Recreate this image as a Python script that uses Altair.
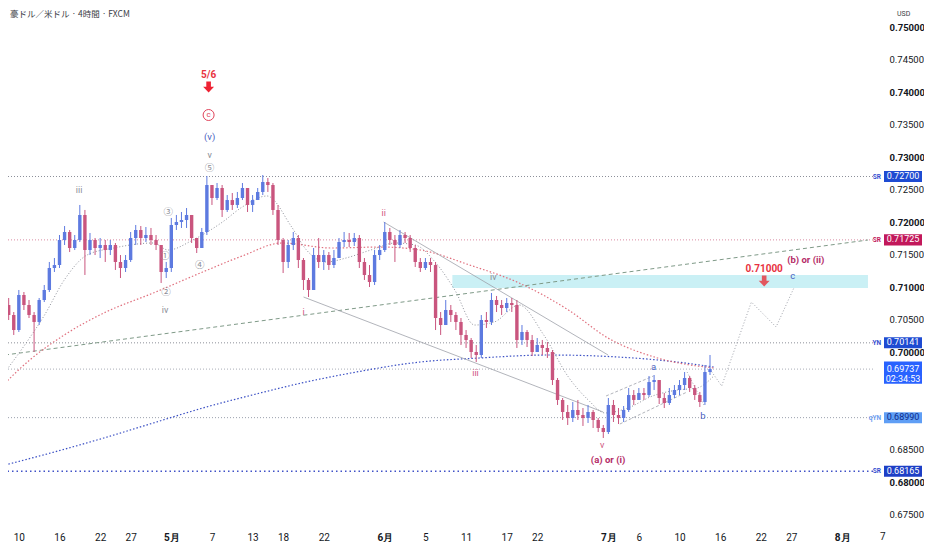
import altair as alt
import pandas as pd

# ---------------- data ----------------
# 12-hour candles; time axis in trading days (0 = Apr 10, weekends removed)
BAR_T0 = -1.0
BAR_DT = 0.5
FIRST_OPEN = 0.70723
CLOSES = [
    0.70569, 0.70338, 0.70877, 0.70723, 0.70569, 0.70462, 0.70800, 0.70954, 0.71292, 0.71338,
    0.71723, 0.71846, 0.71600, 0.71723, 0.72108, 0.71569, 0.71723, 0.71600, 0.71646, 0.71569,
    0.71646, 0.71385, 0.71292, 0.71415, 0.71754, 0.71877, 0.71754, 0.71800, 0.71723, 0.71646,
    0.71231, 0.71292, 0.71954, 0.72000, 0.72031, 0.72108, 0.71754, 0.71600, 0.71846, 0.72569,
    0.72369, 0.72523, 0.72185, 0.72338, 0.72262, 0.72369, 0.72523, 0.72262, 0.72338, 0.72462,
    0.72615, 0.72569, 0.72185, 0.71723, 0.71385, 0.71646, 0.71754, 0.71415, 0.71108, 0.70954,
    0.71492, 0.71385, 0.71492, 0.71338, 0.71446, 0.71692, 0.71723, 0.71692, 0.71754, 0.71385,
    0.71185, 0.71077, 0.71492, 0.71569, 0.71846, 0.71723, 0.71646, 0.71800, 0.71754, 0.71600,
    0.71385, 0.71292, 0.71385, 0.71338, 0.70523, 0.70415, 0.70646, 0.70569, 0.70462, 0.70262,
    0.70185, 0.70000, 0.69954, 0.70492, 0.70462, 0.70800, 0.70723, 0.70677, 0.70754, 0.70723,
    0.70185, 0.70308, 0.70185, 0.70000, 0.70108, 0.70062, 0.70000, 0.69569, 0.69262, 0.69077,
    0.68985, 0.69108, 0.69031, 0.68985, 0.69077, 0.68954, 0.68831, 0.68769, 0.69185, 0.69031,
    0.68985, 0.69108, 0.69338, 0.69262, 0.69369, 0.69338, 0.69538, 0.69569, 0.69292, 0.69215,
    0.69338, 0.69415, 0.69492, 0.69600, 0.69446, 0.69338, 0.69231, 0.69692, 0.69737,
]
HIGHS = [
    0.70831, 0.70615, 0.70954, 0.70923, 0.70800, 0.70615, 0.70831, 0.71031, 0.71385, 0.71446,
    0.71800, 0.71938, 0.71877, 0.71800, 0.72262, 0.72185, 0.71831, 0.71754, 0.71754, 0.71723,
    0.71723, 0.71677, 0.71492, 0.71492, 0.71846, 0.71954, 0.71938, 0.71923, 0.71908, 0.71800,
    0.71646, 0.71385, 0.72062, 0.72108, 0.72154, 0.72215, 0.72108, 0.71754, 0.71908, 0.72708,
    0.72569, 0.72600, 0.72569, 0.72415, 0.72446, 0.72462, 0.72600, 0.72523, 0.72415, 0.72523,
    0.72723, 0.72677, 0.72600, 0.72262, 0.71754, 0.71723, 0.71846, 0.71800, 0.71446, 0.71138,
    0.71600, 0.71754, 0.71569, 0.71538, 0.71569, 0.71754, 0.71846, 0.71831, 0.71831, 0.71800,
    0.71446, 0.71338, 0.71569, 0.71646, 0.72000, 0.71908, 0.71800, 0.71877, 0.71846, 0.71800,
    0.71646, 0.71446, 0.71446, 0.71446, 0.71385, 0.70615, 0.70800, 0.70723, 0.70615, 0.70523,
    0.70338, 0.70215, 0.70108, 0.70569, 0.70615, 0.70908, 0.70862, 0.70800, 0.70831, 0.70831,
    0.70800, 0.70415, 0.70338, 0.70262, 0.70215, 0.70185, 0.70154, 0.70031, 0.69600, 0.69292,
    0.69185, 0.69231, 0.69262, 0.69138, 0.69185, 0.69108, 0.68985, 0.68877, 0.69292, 0.69262,
    0.69138, 0.69169, 0.69446, 0.69415, 0.69446, 0.69446, 0.69631, 0.69646, 0.69538, 0.69369,
    0.69446, 0.69492, 0.69569, 0.69692, 0.69631, 0.69492, 0.69385, 0.69800, 0.69954,
]
LOWS = [
    0.70492, 0.70262, 0.70308, 0.70646, 0.70523, 0.70000, 0.70415, 0.70769, 0.70923, 0.71231,
    0.71292, 0.71646, 0.71538, 0.71569, 0.71692, 0.71185, 0.71492, 0.71492, 0.71446, 0.71385,
    0.71492, 0.71262, 0.71138, 0.71231, 0.71385, 0.71646, 0.71646, 0.71692, 0.71646, 0.71569,
    0.71062, 0.71138, 0.71231, 0.71877, 0.71908, 0.71908, 0.71677, 0.71523, 0.71600, 0.71800,
    0.72262, 0.72338, 0.72077, 0.72154, 0.72185, 0.72215, 0.72338, 0.72154, 0.72154, 0.72338,
    0.72415, 0.72462, 0.72108, 0.71646, 0.71215, 0.71292, 0.71569, 0.71292, 0.70954, 0.70846,
    0.70954, 0.71292, 0.71262, 0.71262, 0.71292, 0.71446, 0.71615, 0.71615, 0.71631, 0.71292,
    0.71108, 0.71000, 0.71031, 0.71415, 0.71538, 0.71646, 0.71385, 0.71600, 0.71677, 0.71538,
    0.71308, 0.71231, 0.71262, 0.71231, 0.70338, 0.70262, 0.70415, 0.70462, 0.70338, 0.70108,
    0.70062, 0.69908, 0.69846, 0.69908, 0.70369, 0.70415, 0.70615, 0.70569, 0.70615, 0.70615,
    0.70062, 0.70108, 0.70077, 0.69938, 0.70000, 0.69954, 0.69908, 0.69492, 0.69185, 0.68954,
    0.68877, 0.68923, 0.68954, 0.68862, 0.68908, 0.68831, 0.68769, 0.68677, 0.68738, 0.68923,
    0.68892, 0.68923, 0.69077, 0.69185, 0.69262, 0.69262, 0.69308, 0.69415, 0.69200, 0.69138,
    0.69185, 0.69292, 0.69338, 0.69415, 0.69385, 0.69262, 0.69154, 0.69185, 0.69646,
]

# moving averages / indicator lines (time in trading days, price)
RED_MA_T = [-1.36, 1.07, 4.47, 8.36, 13.23, 18.09, 21.98, 25.87, 30.73, 35.60, 39.49, 44.35, 49.21, 54.07, 57.96, 62.83, 68.37]
RED_MA_P = [0.69523, 0.69877, 0.70262, 0.70600, 0.70908, 0.71231, 0.71477, 0.71677, 0.71600, 0.71615, 0.71569, 0.71338, 0.71062, 0.70646, 0.70215, 0.69908, 0.69754]
BLUE_MA_T = [-1.36, 3.50, 8.36, 13.23, 18.09, 22.95, 27.82, 32.68, 39.49, 45.32, 52.13, 58.94, 64.77, 68.37]
BLUE_MA_P = [0.68262, 0.68462, 0.68677, 0.68908, 0.69138, 0.69338, 0.69523, 0.69677, 0.69846, 0.69908, 0.69954, 0.69923, 0.69846, 0.69769]
GREY_MA_T = [-1.36, 0.58, 2.53, 4.47, 6.71, 9.34, 13.23, 14.69, 17.12, 20.04, 21.98, 24.41, 26.84, 28.30, 30.25, 32.19, 34.62,
             37.05, 39.00, 40.95, 42.89, 44.83, 46.78, 49.21, 51.64, 54.07, 56.02, 57.67, 59.91, 62.34, 64.77, 66.72, 68.37]
GREY_MA_P = [0.69692, 0.70108, 0.70569, 0.71108, 0.71492, 0.71600, 0.71677, 0.71569, 0.71723, 0.72000, 0.72231, 0.72400, 0.71923,
             0.71569, 0.71385, 0.71446, 0.71569, 0.71677, 0.71646, 0.71385, 0.70954, 0.70415, 0.70462, 0.70723, 0.70262, 0.69615,
             0.69262, 0.69062, 0.69138, 0.69323, 0.69415, 0.69446, 0.69631]
TREND_T = [-1.36, 83.54]
TREND_P = [0.69954, 0.71723]
LOWER_CH_T = [28.01, 57.48]
LOWER_CH_P = [0.70846, 0.69077]
UPPER_CH_T = [35.89, 57.97]
UPPER_CH_P = [0.72000, 0.69954]
A_UP_T = [57.77, 62.44]
A_UP_P = [0.69323, 0.69631]
A_LO_T = [59.13, 65.75]
A_LO_P = [0.68892, 0.69385]
B_LEG_T = [65.75, 67.40]
B_LEG_P = [0.69692, 0.69185]
PROJ_T = [67.98, 69.15, 72.07, 74.50, 76.25]
PROJ_P = [0.69737, 0.69477, 0.70769, 0.70385, 0.70985]

ZONE_T = [42.65, 83.54]
ZONE_P = [0.70985, 0.71185]

LEVELS = [0.72700, 0.71725, 0.70141, 0.69737, 0.68990, 0.68165]
LEVEL_TAGS = ["SR", "SR", "YN", "", "qYN", "SR"]
LEVEL_TEXT = ["0.72700", "0.71725", "0.70141", "0.69737", "0.68990", "0.68165"]

# axes
X_DOMAIN = [-1.3616, 83.544]
Y_DOMAIN = [0.673077, 0.754154]
TICK_DAYS = [0, 4, 8, 11, 15, 19, 23, 26, 30, 36, 40, 44, 48, 51, 58, 61, 65, 69, 73, 76, 81]
TICK_LABELS = ["10", "16", "22", "27", "5月", "7", "13", "18", "22", "6月", "5", "11", "17", "22",
               "7月", "6", "10", "16", "22", "27", "8月"]
EXTRA_TICK_DAY = [85]
EXTRA_TICK_LABEL = ["7"]
MONTH_DAYS = [15, 36, 58, 81]
PRICE_TICKS = [0.675, 0.68, 0.685, 0.70, 0.705, 0.71, 0.715, 0.72, 0.725, 0.73, 0.735, 0.74, 0.745, 0.75]

TITLE = "豪ドル／米ドル · 4時間 · FXCM"

# wave labels
GREY_LBL = ["iii", "iv", "v", "iv"]
GREY_LBL_T = [5.93, 14.39, 18.77, 46.68]
GREY_LBL_P = [0.72492, 0.70646, 0.73031, 0.71154]
CIRC_LBL = ["①", "②", "③", "④", "⑤"]
CIRC_LBL_T = [14.39, 14.49, 14.69, 17.80, 18.77]
CIRC_LBL_P = [0.71477, 0.70923, 0.72154, 0.71338, 0.72831]
PINK_LBL = ["i", "ii", "iii", "v"]
PINK_LBL_T = [28.01, 35.89, 44.93, 57.38]
PINK_LBL_P = [0.70615, 0.72138, 0.69677, 0.68569]
ALT_LBL = ["(a) or (i)", "(b) or (ii)"]
ALT_LBL_T = [57.97, 77.42]
ALT_LBL_P = [0.68338, 0.71415]
BLUE_LBL = ["(v)", "a", "b", "c"]
BLUE_LBL_T = [18.77, 62.44, 67.30, 76.15]
BLUE_LBL_P = [0.73308, 0.69769, 0.69015, 0.71169]
RED_LBL = ["5/6", "0.71000"]
RED_LBL_T = [18.67, 73.33]
RED_LBL_P = [0.74262, 0.71277]
ARROW_T = [18.67, 73.33]
ARROW_P = [0.74077, 0.71092]
CIRCLE_C_T = [18.67]
CIRCLE_C_P = [0.73646]

# ---------------- chart ----------------
FONT = "Roboto"
n = len(CLOSES)
opens = [FIRST_OPEN] + CLOSES[:-1]
candles = pd.DataFrame({
    "t": [BAR_T0 + BAR_DT * i for i in range(n)],
    "open": opens, "close": CLOSES, "high": HIGHS, "low": LOWS,
})
candles["high"] = candles[["high", "open", "close"]].max(axis=1)
candles["low"] = candles[["low", "open", "close"]].min(axis=1)
candles["dir"] = ["up" if c >= o else "down" for o, c in zip(candles["open"], candles["close"])]

xscale = alt.Scale(domain=X_DOMAIN, nice=False, zero=False)
yscale = alt.Scale(domain=Y_DOMAIN, nice=False, zero=False)

label_arr = "[" + ",".join("'" + s + "'" for s in TICK_LABELS) + "]"
day_arr = "[" + ",".join(str(v) for v in TICK_DAYS) + "]"
month_arr = "[" + ",".join(str(v) for v in MONTH_DAYS) + "]"

xaxis = alt.Axis(
    values=TICK_DAYS, labelExpr=f"{label_arr}[indexof({day_arr}, datum.value)]",
    grid=False, ticks=False, domain=False, labelOverlap=False, labelFlush=False,
    labelFontSize=10, labelColor="#131722", labelPadding=5, labelFont=FONT, title=None,
    labelFontWeight={"condition": {"test": f"indexof({month_arr}, datum.value) >= 0", "value": "bold"},
                     "value": "normal"},
)
yaxis = alt.Axis(
    orient="right", values=PRICE_TICKS, format=".5f", grid=False, ticks=False, domain=False,
    labelOverlap=False, labelFlush=False, labelFontSize=9.5, labelColor="#131722",
    labelPadding=16, labelFont=FONT, title=None,
    labelFontWeight={"condition": {"test": "abs(round(datum.value*100) - datum.value*100) < 0.01", "value": "bold"},
                     "value": "normal"},
)


def X(field):
    return alt.X(f"{field}:Q", scale=xscale, axis=xaxis)


def Y(field):
    return alt.Y(f"{field}:Q", scale=yscale, axis=yaxis)


def line_layer(ts, ps, color, dash=None, width=1.0, interp="linear"):
    d = pd.DataFrame({"t": ts, "p": ps})
    kw = dict(color=color, strokeWidth=width, interpolate=interp, clip=True)
    if dash:
        kw["strokeDash"] = dash
    return alt.Chart(d).mark_line(**kw).encode(x=X("t"), y=Y("p"))


def text_layer(texts, ts, ps, color, size, weight="normal", font=FONT):
    d = pd.DataFrame({"t": ts, "p": ps, "txt": texts})
    return alt.Chart(d).mark_text(color=color, fontSize=size, fontWeight=weight, font=font,
                                  align="center", baseline="middle").encode(
        x=X("t"), y=Y("p"), text="txt:N")


layers = []

# zone
zone = pd.DataFrame({"t1": [ZONE_T[0]], "t2": [ZONE_T[1]], "p1": [ZONE_P[0]], "p2": [ZONE_P[1]]})
layers.append(alt.Chart(zone).mark_rect(color="#c4eef4", opacity=0.9).encode(
    x=X("t1"), x2="t2", y=Y("p1"), y2="p2"))

# horizontal levels
level_styles = [
    ("#8c8f99", [1, 2], 1.0), ("#d98aa2", [1, 2], 1.0), ("#8c8f99", [1, 2], 1.0),
    ("#a9adb8", [1, 2], 1.0), ("#9aa0ad", [1, 2], 1.0), ("#4152c8", [1.5, 3], 1.6),
]
for lv, (col, dash, w) in zip(LEVELS, level_styles):
    layers.append(alt.Chart(pd.DataFrame({"p": [lv]})).mark_rule(
        color=col, strokeDash=dash, strokeWidth=w).encode(y=Y("p")))

# indicator lines
layers.append(line_layer(TREND_T, TREND_P, "#7f9a88", [4, 3], 1.0))
layers.append(line_layer(BLUE_MA_T, BLUE_MA_P, "#3a4fc4", [1.5, 2], 1.2, "monotone"))
layers.append(line_layer(RED_MA_T, RED_MA_P, "#e0707e", [1.5, 2], 1.2, "monotone"))
layers.append(line_layer(GREY_MA_T, GREY_MA_P, "#8e919a", [1, 2], 1.0, "monotone"))
layers.append(line_layer(LOWER_CH_T, LOWER_CH_P, "#9ea1aa", None, 0.8))
layers.append(line_layer(UPPER_CH_T, UPPER_CH_P, "#9ea1aa", None, 0.8))
layers.append(line_layer(A_UP_T, A_UP_P, "#9ea1aa", [3, 2], 0.8))
layers.append(line_layer(A_LO_T, A_LO_P, "#9ea1aa", [3, 2], 0.8))
layers.append(line_layer(B_LEG_T, B_LEG_P, "#9ea1aa", [1, 2], 0.9))
layers.append(line_layer(PROJ_T, PROJ_P, "#a0a3ab", [1, 2], 1.0))

# candles
wick_col = alt.Color("dir:N", scale=alt.Scale(domain=["up", "down"], range=["#5d7ae0", "#c9557e"]), legend=None)
body_col = alt.Color("dir:N", scale=alt.Scale(domain=["up", "down"], range=["#1e44d2", "#b8285a"]), legend=None)
base = alt.Chart(candles)
layers.append(base.mark_rule(strokeWidth=1, clip=True).encode(x=X("t"), y=Y("low"), y2="high", color=wick_col))
layers.append(base.mark_bar(size=3.4, clip=True).encode(x=X("t"), y=Y("open"), y2="close", color=body_col))

# wave labels
layers.append(text_layer(GREY_LBL, GREY_LBL_T, GREY_LBL_P, "#8a8d96", 9))
layers.append(text_layer(CIRC_LBL, CIRC_LBL_T, CIRC_LBL_P, "#8a8d96", 9.5, font="Noto Sans CJK JP"))
layers.append(text_layer(PINK_LBL, PINK_LBL_T, PINK_LBL_P, "#d0577f", 9))
layers.append(text_layer(ALT_LBL, ALT_LBL_T, ALT_LBL_P, "#b52d68", 9.5, "bold"))
layers.append(text_layer(BLUE_LBL, BLUE_LBL_T, BLUE_LBL_P, "#4a5fc1", 9.5))
layers.append(text_layer(RED_LBL, RED_LBL_T, RED_LBL_P, "#e8323f", 10, "bold"))
layers.append(text_layer(["c"], CIRCLE_C_T, CIRCLE_C_P, "#e0435a", 8))
layers.append(alt.Chart(pd.DataFrame({"t": CIRCLE_C_T, "p": CIRCLE_C_P})).mark_point(
    shape="circle", size=121, filled=False, color="#e0435a", strokeWidth=1, opacity=1).encode(x=X("t"), y=Y("p")))
arrow_path = "M-0.42,-1 L0.42,-1 L0.42,-0.05 L1,-0.05 L0,1 L-1,-0.05 L-0.42,-0.05 Z"
arr = pd.DataFrame({"t": ARROW_T, "p": ARROW_P, "c": ["#ee2233", "#e2575f"]})
layers.append(alt.Chart(arr).mark_point(shape=arrow_path, size=120, filled=True, opacity=1).encode(
    x=X("t"), y=Y("p"), color=alt.Color("c:N", scale=None)))

# last date label on the future part of the time scale
extra = pd.DataFrame({"t": EXTRA_TICK_DAY, "txt": EXTRA_TICK_LABEL})
layers.append(alt.Chart(extra).mark_text(fontSize=10, font=FONT, color="#131722", align="center",
                                         baseline="top").encode(x=X("t"), y=alt.value(532), text="txt:N"))

# price-scale badges
badge_bg = ["#1e4bd2", "#c2185b", "#1e4bd2", "#2962ff", "#5f9ef5", "#1d3fc6"]
badge_fg = ["#ffffff", "#ffffff", "#ffffff", "#ffffff", "#0d2a8a", "#ffffff"]
tag_col = ["#3550d0", "#c2185b", "#3550d0", "#3550d0", "#6d9ef0", "#3550d0"]
badges = pd.DataFrame({
    "p": LEVELS, "txt": LEVEL_TEXT, "tag": LEVEL_TAGS, "bg": badge_bg, "fg": badge_fg, "tc": tag_col,
    "top": [v + 0.00085 for v in LEVELS], "bot": [v - 0.00085 for v in LEVELS],
})
badges.loc[3, "top"] = LEVELS[3] + 0.00115
badges.loc[3, "bot"] = LEVELS[3] - 0.00225
bch = alt.Chart(badges)
layers.append(bch.mark_rect().encode(x=alt.value(884), x2=alt.value(922), y=Y("top"), y2="bot",
                                     color=alt.Color("bg:N", scale=None)))
layers.append(bch.mark_text(fontSize=9, font=FONT, align="center", baseline="middle", dy=-0.5).encode(
    x=alt.value(903), y=Y("p"), text="txt:N", color=alt.Color("fg:N", scale=None)))
layers.append(bch.mark_text(fontSize=6.5, font=FONT, fontWeight="bold", align="right", baseline="middle").encode(
    x=alt.value(881), y=Y("p"), text="tag:N", color=alt.Color("tc:N", scale=None)))
timer = pd.DataFrame({"p": [LEVELS[3]], "txt": ["02:34:53"]})
layers.append(alt.Chart(timer).mark_text(fontSize=9, font=FONT, align="center", baseline="middle",
                                         dy=10, color="#ffffff").encode(
    x=alt.value(903), y=Y("p"), text="txt:N"))

# header texts
layers.append(alt.Chart(pd.DataFrame({"txt": [TITLE]})).mark_text(
    fontSize=8.5, font="Noto Sans CJK JP", color="#3a3d45", align="left", baseline="middle").encode(
    x=alt.value(10), y=alt.value(14), text="txt:N"))
layers.append(alt.Chart(pd.DataFrame({"txt": ["USD"]})).mark_text(
    fontSize=7, font=FONT, color="#3a3d45", align="left", baseline="middle").encode(
    x=alt.value(897), y=alt.value(14), text="txt:N"))

chart = alt.layer(*layers).properties(
    width=873, height=527,
    autosize=alt.AutoSizeParams(type="none"),
    padding={"left": -8, "top": -8, "right": 51, "bottom": 15},
    background="#ffffff",
).configure_view(stroke=None)

chart.save("out.html", embed_options={"renderer": "svg", "actions": False})
